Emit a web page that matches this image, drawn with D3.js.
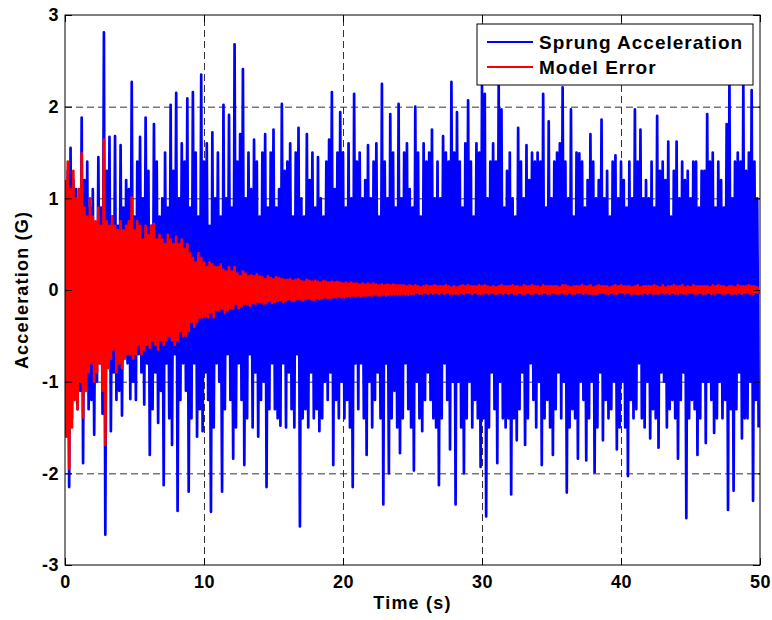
<!DOCTYPE html>
<html>
<head>
<meta charset="utf-8">
<script src="https://cdn.jsdelivr.net/npm/d3@7"></script>
<style>
  body { margin: 0; background: #fff; }
  svg text { font-family: "Liberation Sans", Arial, Helvetica, sans-serif; font-weight: bold; fill: #000; }
</style>
</head>
<body>
<script>
var svgWidth = 772;
var svgHeight = 620;

var margin = {
  top: 15,
  right: 12,
  bottom: 55,
  left: 65
};

var chartWidth = svgWidth - margin.left - margin.right;
var chartHeight = svgHeight - margin.top - margin.bottom;

// sample spacing of both series, seconds
var sampleStep = 0.1;

var xTicks = [0, 10, 20, 30, 40, 50];
var yTicks = [-3, -2, -1, 0, 1, 2, 3];

var seriesNames = ["Sprung Acceleration", "Model Error"];

// Sprung acceleration (G), one row per second
var sprungAccel = [
  0.9, -1.2, 1.3, -2.15, 1.55, -1.4, 1.2, -0.9, 1.1, -1.3,
  0.8, -1.1, 1.88, -1.89, 1.2, -0.7, 1.4, -1.3, 0.9, -1.2,
  1.1, -1.58, 0.7, -1.0, 1.45, -0.8, 0.9, -1.35, 2.81, -2.67,
  1.3, -0.6, 1.67, -1.54, 0.8, -0.9, 1.68, -1.2, 0.7, -1.1,
  1.58, -1.37, 0.9, -0.6, 1.2, -0.8, 1.1, -1.19, 2.27, -1.0,
  0.8, -1.2, 1.4, -0.7, 1.67, -0.9, 1.0, -1.25, 1.88, -0.8,
  1.3, -1.8, 0.7, -1.3, 1.81, -0.9, 1.4, -1.45, 0.8, -1.1,
  1.0, -2.13, 1.5, -0.8, 0.9, -1.4, 2.02, -1.69, 1.3, -0.7,
  2.15, -2.41, 1.0, -1.2, 1.6, -0.8, 1.4, -1.1, 2.09, -2.2,
  0.9, -1.4, 2.16, -0.8, 1.5, -1.6, 0.8, -1.3, 2.35, -1.54,
  1.4, -0.9, 1.6, -1.2, 0.7, -2.42, 1.72, -1.5, 1.0, -0.8,
  1.5, -1.0, 0.8, -2.2, 2.02, -1.3, 1.0, -0.7, 1.91, -1.2,
  0.9, -1.84, 2.68, -1.5, 1.4, -0.8, 1.7, -1.2, 2.41, -1.91,
  1.0, -1.4, 1.5, -0.7, 1.1, -1.5, 1.64, -0.9, 1.4, -1.6,
  0.8, -1.2, 1.5, -1.0, 1.7, -2.15, 0.9, -1.3, 1.5, -0.8,
  1.75, -1.3, 0.9, -1.4, 1.1, -1.48, 2.03, -0.8, 1.3, -1.5,
  1.4, -0.9, 1.6, -1.3, 0.8, -1.5, 1.5, -0.7, 1.77, -2.58,
  1.0, -1.4, 0.8, -1.3, 1.7, -1.5, 1.2, -0.9, 1.5, -1.4,
  0.9, -1.3, 1.45, -1.54, 1.0, -1.4, 0.8, -1.0, 1.4, -1.2,
  1.64, -0.9, 2.16, -1.91, 1.1, -1.2, 1.5, -1.4, 1.94, -1.0,
  1.5, -1.4, 0.9, -1.2, 1.6, -1.5, 1.0, -2.15, 2.14, -0.8,
  1.4, -1.3, 1.5, -0.8, 1.0, -1.4, 1.2, -1.8, 1.58, -1.0,
  1.0, -1.5, 1.4, -1.2, 1.6, -0.9, 0.8, -1.4, 2.25, -2.34,
  1.4, -0.8, 1.0, -2.0, 1.92, -1.4, 1.5, -1.1, 0.9, -1.5,
  2.03, -1.78, 1.0, -1.4, 1.5, -0.8, 1.6, -1.3, 1.1, -1.5,
  0.9, -1.97, 2.0, -1.0, 1.5, -1.4, 0.8, -1.54, 1.6, -1.2,
  1.4, -0.9, 1.5, -1.2, 1.75, -1.4, 1.0, -1.5, 1.4, -2.13,
  1.0, -1.4, 1.68, -0.8, 1.5, -1.2, 1.4, -1.74, 2.27, -1.0,
  1.5, -2.34, 1.94, -1.0, 1.4, -1.5, 0.9, -2.0, 1.6, -1.4,
  2.07, -1.0, 1.4, -1.5, 0.8, -1.2, 1.6, -1.4, 1.5, -1.93,
  2.25, -1.4, 2.14, -2.47, 1.0, -1.5, 1.4, -0.9, 1.6, -1.3,
  1.4, -1.89, 2.25, -1.0, 1.97, -1.4, 0.9, -1.5, 1.3, -1.4,
  1.5, -2.23, 1.0, -1.4, 0.8, -1.64, 1.77, -1.3, 1.4, -0.9,
  1.0, -1.69, 1.58, -1.4, 1.2, -0.8, 1.5, -1.2, 1.4, -1.5,
  1.5, -1.0, 1.4, -1.91, 2.14, -1.4, 0.9, -1.2, 1.84, -1.5,
  1.0, -1.8, 1.4, -1.3, 1.5, -0.9, 1.6, -1.4, 2.21, -1.0,
  1.4, -2.21, 1.0, -1.5, 1.97, -1.3, 0.8, -1.4, 1.5, -1.84,
  1.49, -1.0, 1.4, -1.2, 0.9, -1.86, 1.2, -1.4, 1.7, -1.0,
  1.4, -1.99, 1.0, -1.5, 1.2, -0.9, 1.86, -1.64, 1.0, -1.2,
  1.3, -1.4, 0.8, -1.3, 1.4, -1.0, 1.47, -1.74, 1.0, -1.5,
  1.4, -1.0, 1.2, -1.5, 0.9, -2.03, 1.4, -1.2, 1.0, -1.4,
  1.97, -1.3, 1.4, -0.8, 1.75, -1.4, 1.0, -1.5, 1.2, -1.0,
  1.0, -1.62, 1.4, -1.3, 0.9, -1.4, 1.9, -1.72, 1.3, -0.9,
  1.4, -1.0, 1.2, -1.5, 1.62, -1.3, 0.8, -1.2, 1.3, -1.4,
  1.62, -1.84, 1.0, -1.2, 1.4, -0.9, 1.2, -2.49, 1.3, -1.4,
  1.0, -1.2, 1.4, -1.3, 1.4, -1.8, 0.9, -1.4, 1.3, -1.0,
  1.3, -1.67, 1.92, -1.0, 1.4, -1.2, 1.5, -1.56, 0.9, -1.4,
  1.4, -1.0, 1.2, -1.4, 0.9, -1.2, 1.81, -2.4, 2.31, -1.3,
  1.0, -2.19, 1.4, -1.3, 1.5, -0.9, 1.4, -1.62, 2.25, -1.4,
  1.3, -1.4, 1.5, -1.0, 2.18, -2.3, 1.4, -1.2, 1.0, -1.5
];

// Model error (G), one row per second
var modelError = [
  1.2, -1.6, 1.4, -1.95, 1.1, -1.5, 1.3, -1.2, 1.0, -1.3,
  1.1, -1.0, 1.49, -1.39, 0.9, -1.1, 0.8, -0.9, 1.0, -0.8,
  0.8, -1.0, 0.75, -0.9, 0.9, -0.8, 0.7, -1.1, 1.64, -1.69,
  0.75, -0.85, 0.7, -0.75, 0.8, -0.65, 0.7, -0.9, 0.65, -0.8,
  0.75, -0.85, 0.65, -0.75, 0.7, -0.7, 0.75, -0.7, 1.01, -0.75,
  0.65, -0.7, 0.75, -0.6, 0.7, -0.7, 0.55, -0.65, 0.7, -0.6,
  0.6, -0.63, 0.7, -0.55, 0.72, -0.6, 0.55, -0.65, 0.6, -0.55,
  0.55, -0.6, 0.5, -0.55, 0.6, -0.5, 0.55, -0.55, 0.5, -0.6,
  0.58, -0.55, 0.5, -0.45, 0.55, -0.5, 0.45, -0.5, 0.5, -0.45,
  0.4, -0.35, 0.35, -0.4, 0.3, -0.35, 0.4, -0.3, 0.35, -0.3,
  0.3, -0.29, 0.25, -0.3, 0.3, -0.25, 0.28, -0.3, 0.25, -0.22,
  0.25, -0.22, 0.28, -0.2, 0.22, -0.25, 0.2, -0.22, 0.25, -0.2,
  0.2, -0.2, 0.25, -0.15, 0.18, -0.2, 0.15, -0.18, 0.2, -0.15,
  0.18, -0.15, 0.15, -0.17, 0.16, -0.14, 0.15, -0.15, 0.17, -0.13,
  0.15, -0.13, 0.14, -0.15, 0.12, -0.14, 0.15, -0.12, 0.13, -0.14,
  0.12, -0.13, 0.14, -0.12, 0.13, -0.11, 0.12, -0.13, 0.11, -0.12,
  0.11, -0.1, 0.12, -0.11, 0.1, -0.12, 0.11, -0.1, 0.12, -0.1,
  0.1, -0.11, 0.09, -0.1, 0.11, -0.09, 0.1, -0.1, 0.09, -0.11,
  0.1, -0.09, 0.09, -0.1, 0.08, -0.09, 0.1, -0.08, 0.09, -0.09,
  0.08, -0.09, 0.09, -0.08, 0.08, -0.08, 0.09, -0.07, 0.08, -0.08,
  0.07, -0.08, 0.08, -0.07, 0.07, -0.07, 0.08, -0.06, 0.07, -0.07,
  0.07, -0.06, 0.06, -0.07, 0.07, -0.06, 0.06, -0.06, 0.07, -0.06,
  0.06, -0.06, 0.07, -0.05, 0.06, -0.06, 0.05, -0.06, 0.06, -0.05,
  0.05, -0.06, 0.06, -0.05, 0.05, -0.05, 0.06, -0.05, 0.05, -0.05,
  0.05, -0.05, 0.05, -0.04, 0.05, -0.05, 0.04, -0.05, 0.05, -0.04,
  0.04, -0.04, 0.05, -0.03, 0.04, -0.04, 0.03, -0.04, 0.04, -0.03,
  0.05, -0.04, 0.04, -0.03, 0.04, -0.04, 0.05, -0.03, 0.04, -0.04,
  0.04, -0.03, 0.04, -0.04, 0.05, -0.03, 0.04, -0.04, 0.03, -0.04,
  0.04, -0.04, 0.03, -0.04, 0.04, -0.03, 0.05, -0.04, 0.04, -0.03,
  0.05, -0.03, 0.04, -0.04, 0.04, -0.03, 0.04, -0.04, 0.05, -0.04,
  0.04, -0.04, 0.05, -0.03, 0.04, -0.04, 0.03, -0.03, 0.04, -0.04,
  0.03, -0.04, 0.04, -0.03, 0.05, -0.04, 0.04, -0.03, 0.04, -0.04,
  0.04, -0.03, 0.05, -0.04, 0.04, -0.04, 0.04, -0.03, 0.03, -0.04,
  0.05, -0.04, 0.04, -0.03, 0.04, -0.04, 0.05, -0.04, 0.04, -0.03,
  0.04, -0.04, 0.03, -0.04, 0.05, -0.03, 0.04, -0.04, 0.04, -0.04,
  0.04, -0.03, 0.04, -0.04, 0.04, -0.04, 0.03, -0.03, 0.05, -0.04,
  0.05, -0.04, 0.04, -0.03, 0.03, -0.04, 0.04, -0.04, 0.04, -0.03,
  0.04, -0.03, 0.05, -0.04, 0.04, -0.03, 0.04, -0.04, 0.05, -0.04,
  0.03, -0.04, 0.04, -0.04, 0.05, -0.03, 0.04, -0.03, 0.04, -0.04,
  0.04, -0.04, 0.03, -0.03, 0.04, -0.04, 0.05, -0.04, 0.04, -0.03,
  0.05, -0.03, 0.04, -0.04, 0.04, -0.03, 0.04, -0.04, 0.03, -0.04,
  0.04, -0.04, 0.05, -0.04, 0.03, -0.04, 0.04, -0.03, 0.04, -0.04,
  0.04, -0.03, 0.04, -0.04, 0.05, -0.04, 0.04, -0.04, 0.03, -0.03,
  0.05, -0.04, 0.03, -0.03, 0.04, -0.04, 0.04, -0.03, 0.05, -0.04,
  0.04, -0.04, 0.04, -0.03, 0.05, -0.04, 0.03, -0.04, 0.04, -0.03,
  0.03, -0.03, 0.05, -0.04, 0.04, -0.04, 0.04, -0.03, 0.04, -0.04,
  0.04, -0.04, 0.04, -0.03, 0.03, -0.04, 0.05, -0.04, 0.04, -0.03,
  0.05, -0.03, 0.04, -0.04, 0.04, -0.04, 0.03, -0.03, 0.04, -0.04,
  0.04, -0.04, 0.03, -0.04, 0.05, -0.03, 0.04, -0.04, 0.04, -0.03,
  0.04, -0.03, 0.05, -0.04, 0.04, -0.04, 0.04, -0.03, 0.03, -0.04
];

var svg = d3.select("body")
  .append("svg")
  .attr("width", svgWidth)
  .attr("height", svgHeight);

var chartGroup = svg.append("g")
  .attr("transform", `translate(${margin.left}, ${margin.top})`);

var xScale = d3.scaleLinear().domain([0, 50]).range([0, chartWidth]);
var yScale = d3.scaleLinear().domain([-3, 3]).range([chartHeight, 0]);

// dashed grid, under the data
var gridX = chartGroup.append("g")
  .attr("transform", `translate(0, ${chartHeight})`)
  .call(d3.axisBottom(xScale).tickValues(xTicks.slice(1, -1)).tickSize(-chartHeight).tickFormat(""));
var gridY = chartGroup.append("g")
  .call(d3.axisLeft(yScale).tickValues(yTicks.slice(1, -1)).tickSize(-chartWidth).tickFormat(""));
[gridX, gridY].forEach(function(g) {
  g.select(".domain").remove();
  g.selectAll("line")
    .attr("stroke", "#333")
    .attr("stroke-width", 1)
    .attr("stroke-dasharray", "7,4");
});

chartGroup.append("clipPath").attr("id", "plotClip")
  .append("rect").attr("width", chartWidth).attr("height", chartHeight);

var drawLine = d3.line()
  .x((d, i) => xScale(i * sampleStep))
  .y(d => yScale(d));

chartGroup.append("path")
  .attr("d", drawLine(sprungAccel))
  .attr("clip-path", "url(#plotClip)")
  .attr("stroke", "#0000ff")
  .attr("stroke-width", 2.7)
  .attr("stroke-linejoin", "round")
  .style("fill", "none");

chartGroup.append("path")
  .attr("d", drawLine(modelError))
  .attr("clip-path", "url(#plotClip)")
  .attr("stroke", "#ff0000")
  .attr("stroke-width", 2.7)
  .attr("stroke-linejoin", "round")
  .style("fill", "none");

// axes, ticks pointing inwards
function styleAxis(g) {
  g.select(".domain").remove();
  g.selectAll("line").attr("stroke", "#000");
  g.selectAll("text")
    .style("font-size", "18px")
    .style("letter-spacing", "0.5px");
}
var fmt = d => String(d);

chartGroup.append("g")
  .attr("transform", `translate(0, ${chartHeight})`)
  .call(d3.axisBottom(xScale).tickValues(xTicks).tickSizeInner(-7).tickSizeOuter(0).tickPadding(10).tickFormat(fmt))
  .call(styleAxis);
chartGroup.append("g")
  .call(d3.axisTop(xScale).tickValues(xTicks).tickSizeInner(-7).tickSizeOuter(0).tickFormat(""))
  .call(styleAxis);
chartGroup.append("g")
  .call(d3.axisLeft(yScale).tickValues(yTicks).tickSizeInner(-7).tickSizeOuter(0).tickPadding(6).tickFormat(fmt))
  .call(styleAxis);
chartGroup.append("g")
  .attr("transform", `translate(${chartWidth}, 0)`)
  .call(d3.axisRight(yScale).tickValues(yTicks).tickSizeInner(-7).tickSizeOuter(0).tickFormat(""))
  .call(styleAxis);

chartGroup.append("rect")
  .attr("width", chartWidth)
  .attr("height", chartHeight)
  .attr("fill", "none")
  .attr("stroke", "#000")
  .attr("stroke-width", 1);

// axis labels
svg.append("text")
  .attr("x", margin.left + chartWidth / 2)
  .attr("y", 609)
  .attr("text-anchor", "middle")
  .style("font-size", "18px")
  .style("letter-spacing", "1.2px")
  .text("Time (s)");

svg.append("text")
  .attr("transform", `translate(28, ${margin.top + chartHeight / 2}) rotate(-90)`)
  .attr("text-anchor", "middle")
  .style("font-size", "18px")
  .style("letter-spacing", "1.2px")
  .text("Acceleration (G)");

// legend
var legend = svg.append("g").attr("transform", "translate(477, 24)");
legend.append("rect")
  .attr("width", 276)
  .attr("height", 61)
  .attr("fill", "#fff")
  .attr("stroke", "#000")
  .attr("stroke-width", 1);

var legendColors = ["#0000ff", "#ff0000"];
seriesNames.forEach(function(name, i) {
  var cy = 18 + i * 25;
  legend.append("line")
    .attr("x1", 10).attr("x2", 56)
    .attr("y1", cy).attr("y2", cy)
    .attr("stroke", legendColors[i])
    .attr("stroke-width", 2);
  legend.append("text")
    .attr("x", 62)
    .attr("y", cy + 7)
    .style("font-size", "19px")
    .style("letter-spacing", "1px")
    .text(name);
});
</script>
</body>
</html>
